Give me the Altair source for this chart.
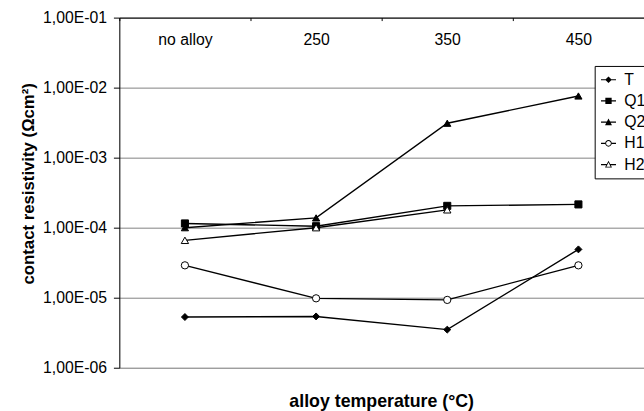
import altair as alt
import pandas as pd

categories = ["no alloy", "250", "350", "450"]
series_names = ["T", "Q1", "Q2", "H1", "H2"]

T_vals = [5.3e-6, 5.4e-6, 3.5e-6, 4.9e-5]
Q1_vals = [1.15e-4, 1.05e-4, 2.05e-4, 2.15e-4]
Q2_vals = [1.0e-4, 1.38e-4, 3.1e-3, 7.6e-3]
H1_vals = [2.9e-5, 9.8e-6, 9.3e-6, 2.9e-5]
H2_vals = [6.6e-5, 1.0e-4, 1.8e-4, None]

y_ticks = [1e-1, 1e-2, 1e-3, 1e-4, 1e-5, 1e-6]

rows = []
for name, vals in zip(series_names, [T_vals, Q1_vals, Q2_vals, H1_vals, H2_vals]):
    for c, v in zip(categories, vals):
        if v is not None:
            rows.append({"series": name, "lg": name, "cat": c, "value": v})
df = pd.DataFrame(rows)

FONT = "Liberation Sans"

x_enc = alt.X(
    "cat:O",
    sort=categories,
    scale=alt.Scale(type="band", paddingInner=0, paddingOuter=0),
    axis=alt.Axis(
        orient="bottom", offset=-355, title=None, grid=False,
        domainColor="black", domainWidth=1, tickColor="black", tickSize=3,
        tickBand="extent", labelPadding=11, labelFontSize=16, labelColor="black",
        labelFont=FONT, labelAngle=0,
    ),
)
y_enc = alt.Y(
    "value:Q",
    scale=alt.Scale(type="log", domain=[1e-6, 1e-1]),
    axis=alt.Axis(
        values=y_ticks,
        labelExpr="'1,00E-0' + round(-log(datum.value)/LN10)",
        title="contact resistivity  (\u03A9cm\u00B2)",
        titleFontSize=17, titleFontWeight="bold", titleFont=FONT, titleColor="black",
        titlePadding=5, titleY=168,
        labelFontSize=16, labelColor="black", labelFont=FONT, labelPadding=7,
        domainColor="black", tickColor="black", tickSize=6,
        grid=True, gridColor="#808080", gridWidth=1,
    ),
)

base = alt.Chart(df)

lines = base.mark_line(color="black", strokeWidth=1.4).encode(
    x=x_enc, y=y_enc, detail="series:N"
)

points = base.mark_point(filled=False, stroke="black", strokeWidth=1, opacity=1).encode(
    x=x_enc, y=y_enc,
    shape=alt.Shape("series:N", scale=alt.Scale(domain=series_names,
                    range=["diamond", "square", "triangle-up", "circle", "triangle-up"]), legend=None),
    fill=alt.Fill("series:N", scale=alt.Scale(domain=series_names,
                  range=["black", "black", "black", "white", "white"]), legend=None),
    size=alt.Size("series:N", scale=alt.Scale(domain=series_names,
                  range=[50, 56, 70, 64, 70]), legend=None),
)

# legend glyphs: line segment + marker, drawn as filled outlines (unit symbol coordinates)
LINE = "M-0.95,-0.075H0.95V0.075H-0.95Z"
legend_paths = [
    LINE + "M0,-0.42L0.42,0L0,0.42L-0.42,0Z",
    LINE + "M-0.4,-0.4H0.4V0.4H-0.4Z",
    LINE + "M0,-0.47L0.44,0.38H-0.44Z",
    "M-0.95,-0.075H-0.42V0.075H-0.95ZM0.42,-0.075H0.95V0.075H0.42Z"
    "M0.42,0A0.42,0.42 0 1,1 -0.42,0A0.42,0.42 0 1,1 0.42,0Z"
    "M0.3,0A0.3,0.3 0 1,0 -0.3,0A0.3,0.3 0 1,0 0.3,0Z",
    "M-0.95,-0.075H-0.22V0.075H-0.95ZM0.22,-0.075H0.95V0.075H0.22Z"
    "M0,-0.47L0.44,0.38H-0.44Z"
    "M0,-0.25L-0.27,0.27H0.27Z",
]

# legend-only layer: no rows are drawn, the legend comes from the explicit scale domain
legend_layer = base.transform_filter("false").mark_point(
    filled=True, color="black", opacity=1
).encode(
    x=x_enc, y=y_enc,
    shape=alt.Shape("lg:N", scale=alt.Scale(domain=series_names, range=legend_paths),
                    legend=alt.Legend(
                        title=None, orient="none", legendX=482, legendY=49,
                        strokeColor="black", fillColor="white", padding=6,
                        symbolSize=256, symbolStrokeWidth=0, symbolFillColor="black",
                        symbolOpacity=1, labelFontSize=16, labelColor="black",
                        labelFont=FONT, labelOffset=8, rowPadding=5.5, cornerRadius=0,
                    )),
)

chart = alt.layer(lines, points, legend_layer).resolve_scale(
    shape="independent"
).properties(
    width=532, height=355,
    title=alt.TitleParams("alloy temperature (\u00B0C)", orient="bottom", anchor="middle",
                          fontSize=18, fontWeight="bold", font=FONT, color="black", offset=18),
    autosize=alt.AutoSizeParams(type="none"),
    padding={"left": 121, "top": 15, "right": 0, "bottom": 41},
).configure_view(stroke=None).configure(background="white")

chart.save("out.html", embed_options={"renderer": "svg", "actions": False})
